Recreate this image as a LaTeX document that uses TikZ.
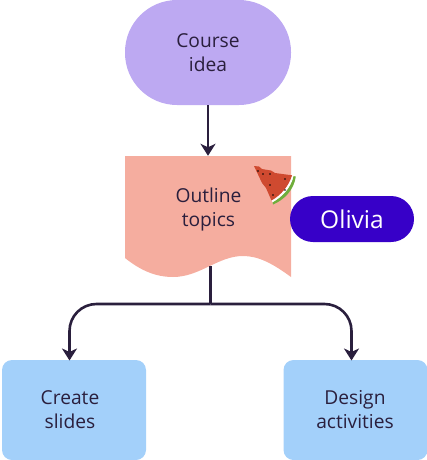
\documentclass[tikz,border=0pt]{standalone}
\usepackage{fontspec}
\setmainfont{Open Sans}
\usetikzlibrary{arrows.meta}
\definecolor{ink}{HTML}{2A1F3D}
\definecolor{lilac}{HTML}{BDA9F2}
\definecolor{salmon}{HTML}{F5AD9F}
\definecolor{sky}{HTML}{A3D0FA}
\definecolor{royal}{HTML}{3700C8}
\definecolor{melon}{HTML}{CF4A30}
\definecolor{rind}{HTML}{6FAE3C}
\tikzset{
  label text/.style={text=ink,align=center,font=\fontsize{19.2}{24}\selectfont},
  stadium/.style={fill=lilac,rounded corners=52pt,minimum width=166pt,minimum height=105pt,inner sep=0pt},
  taskbox/.style={fill=sky,rounded corners=10pt,minimum width=144pt,minimum height=100pt,inner sep=0pt},
  pill/.style={fill=royal,rounded corners=23pt,minimum width=124pt,minimum height=46pt,inner sep=0pt,text=white,font=\fontsize{24.5}{28}\selectfont},
  link/.style={draw=ink,line width=2.6pt,rounded corners=27pt},
  tip/.style={-{Stealth[length=12pt,width=15pt,inset=3.5pt]}},
}
\begin{document}
\begin{tikzpicture}[x=1pt,y=-1pt]
\useasboundingbox (0,0) rectangle (427,460);
% document shape
\fill[salmon] (125,156) -- (291,156) -- (291,277)
  .. controls (272,263) and (258,256) .. (243,256)
  .. controls (218,256) and (200,277) .. (173,277)
  .. controls (155,277) and (140,270) .. (125,258) -- cycle;
\node[stadium] (idea) at (208,52.5) {};
\node[label text] (ideatext) at (208,53) {Course\\idea};
\node[minimum width=166pt,minimum height=121pt,inner sep=0pt] (doc) at (208,216.5) {};
\node[label text] (doctext) at (208.5,210) {Outline\\topics};
\node[taskbox] (slides) at (74,410) {};
\node[label text] (slidestext) at (70,410) {Create\\slides};
\node[taskbox] (activities) at (355.5,410) {};
\node[label text] (activitiestext) at (355,410) {Design\\activities};
\node[pill] (owner) at (352,219) {Olivia};
% connectors
\coordinate (trunktop) at (210.5,266);
\coordinate (branch) at (210.5,304);
\coordinate (leftend) at (69.5,360.5);
\coordinate (rightend) at (351.5,360.5);
\draw[link,tip] (idea.south) -- (doc.north);
\draw[link] (trunktop) -- (branch);
\draw[link,tip] (branch) -- (leftend |- branch) -- (leftend);
\draw[link,tip] (branch) -- (rightend |- branch) -- (rightend);
% watermelon
\fill[rind] (295.8,176.6) .. controls (294,190) and (284,200) .. (273,204.5) -- (272.5,202) .. controls (282,197) and (291,188) .. (293.5,176) -- cycle;
\fill[white] (293.4,175.8) .. controls (291,188) and (282,197) .. (272.5,202.3) -- (271.5,200) .. controls (281,195) and (288,186) .. (291,175) -- cycle;
\fill[melon] (254,166) -- (259,166.5) -- (262,169) -- (271,170.5) -- (275,173) -- (292,175.3)
  .. controls (289,186) and (281,195) .. (271.5,200.5) -- (266,188) -- (262,183) -- cycle;
\foreach \p in {(258,171),(263,174),(270,174),(285,179),(270,185),(285,190),(273,195)}
  \fill[black] \p circle (0.8);
\end{tikzpicture}
\end{document}
